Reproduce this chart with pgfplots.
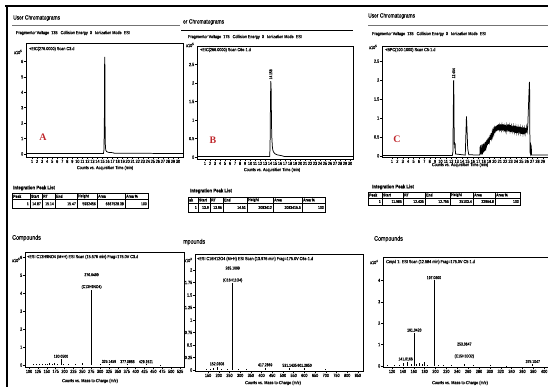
\documentclass[border=0pt]{standalone}
\usepackage{fontspec}
\setmainfont{Liberation Sans}[FakeStretch=0.82,FakeBold=0.4]
\newfontfamily\serifb{Liberation Serif}
\usepackage{pgfplots}
\pgfplotsset{compat=1.18}
\definecolor{lblred}{HTML}{C0282D}
\pgfplotsset{
  base/.style={scale only axis, anchor=north west, axis lines=box,
    xtick pos=bottom, ytick pos=left, tick align=outside,
    major tick length=1.8pt, minor tick length=1pt,
    axis line style={line width=0.5pt, black},
    every tick/.style={black, line width=0.4pt},
    ticklabel style={font=\fontsize{4.6}{4.8}\selectfont, inner sep=0.8pt},
    /pgf/number format/assume math mode=true,
    scaled y ticks=false, scaled x ticks=false, clip=true},
  trace/.style={black, line width=0.75pt, mark=none},
  comb/.style={ycomb, black, line width=0.7pt, mark=none},
}
\newcommand\tf{\fontsize{4.6}{5.2}\selectfont}
\newcommand\pf{\fontsize{4.2}{5}\selectfont}
\newcommand\hf{\fontsize{6}{6.5}\selectfont}
\begin{document}
\begin{tikzpicture}
\path[use as bounding box] (0bp,0bp) rectangle (548bp,387bp);
\begin{scope}[x=1bp,y=1bp]
\draw[black,line width=2.2pt] (5,381) -- (548,381);
\draw[black,line width=2.4pt] (6.8,381) -- (6.8,0);
% ===== headers =====
\node[anchor=west,inner sep=0] at (13,{387-18}) {\hf User Chromatograms};
\draw[black!55,line width=0.6pt] (12,{387-25}) -- (180,{387-25});
\node[anchor=west,inner sep=0] at (16,{387-33}) {\tf Fragmentor Voltage \ 135 \ \ Collision Energy \ 0 \ \ Ionization Mode \ ESI};
\node[anchor=west,inner sep=0] at (183,{387-22}) {\hf er Chromatograms};
\draw[black,line width=0.8pt] (181,{387-30}) -- (353,{387-30});
\node[anchor=west,inner sep=0] at (188,{387-37}) {\tf Fragmentor Voltage \ 175 \ \ Collision Energy \ 0 \ \ Ionization Mode \ ESI};
\node[anchor=west,inner sep=0] at (368,{387-16}) {\hf User Chromatograms};
\draw[black!55,line width=0.6pt] (368,{387-25}) -- (548,{387-25});
\node[anchor=west,inner sep=0] at (372,{387-34}) {\tf Fragmentor Voltage \ 135 \ \ Collision Energy \ 0 \ \ Ionization Mode \ ESI};

\node[anchor=west,inner sep=0] at (14,{387-52}) {\tf x10\textsuperscript{5}};
\node[anchor=west,inner sep=0] at (29,{387-49}) {\tf +EIC(276.0000) Scan C3.d};
\node[anchor=center,inner sep=0,text=lblred] at (43,{387-137}) {\serifb\bfseries\fontsize{10}{10}\selectfont A};
\node[inner sep=0] at (105,{387-168}) {\tf Counts vs. Acquisition Time (min)};
\node[anchor=west,inner sep=0] at (186,{387-45}) {\tf x10\textsuperscript{5}};
\node[anchor=west,inner sep=0] at (200,{387-50}) {\tf +EIC(266.0000) Scan C6e-1.d};
\node[inner sep=0,text=lblred] at (213,{387-140}) {\serifb\bfseries\fontsize{10}{10}\selectfont B};
\node[inner sep=0] at (272,{387-170}) {\tf Counts vs. Acquisition Time (min)};
\node[anchor=west,inner sep=0] at (369,{387-47}) {\tf x10\textsuperscript{5}};
\node[anchor=west,inner sep=0] at (385,{387-50}) {\tf +BPC(100-1000) Scan C5-1.d};
\node[inner sep=0,text=lblred] at (397,{387-139}) {\serifb\bfseries\fontsize{10}{10}\selectfont C};
\node[inner sep=0] at (460,{387-165}) {\tf Counts vs. Acquisition Time (min)};

% ===== Tables =====
\node[anchor=west,inner sep=0] at (13,{387-188}) {\fontsize{5.2}{5.5}\selectfont\bfseries Integration Peak List};
\draw[line width=0.45pt] (12,{387-193}) rectangle (148,{387-208});
\draw[line width=1pt] (12,{387-193}) -- (148,{387-193});
\draw[line width=0.6pt] (12,{387-199.5}) -- (148,{387-199.5});
\foreach \c in {30,42,55,77,97,125} \draw[line width=0.45pt] (\c,{387-193}) -- (\c,{387-208});
\foreach \c/\t in {12/Peak,30/Start,42/RT,55/End,77/Height,97/Area,125/Area \%}
  \node[anchor=west,inner sep=0] at ({\c+1},{387-196.3}) {\pf\bfseries \t};
\foreach \c/\t in {30/1,42/14.87,55/15.14,77/15.47,97/5932456,125/6667528.38,148/100}
  \node[anchor=east,inner sep=0] at ({\c-1},{387-203.8}) {\pf \t};

\node[anchor=west,inner sep=0] at (190,{387-191}) {\fontsize{5.2}{5.5}\selectfont\bfseries Integration Peak List};
\draw[line width=0.45pt] (188,{387-197}) rectangle (325,{387-212});
\draw[line width=1pt] (188,{387-197}) -- (325,{387-197});
\draw[line width=0.6pt] (188,{387-203}) -- (325,{387-203});
\foreach \c in {198,210,223,247,273,302} \draw[line width=0.45pt] (\c,{387-197}) -- (\c,{387-212});
\foreach \c/\t in {188/ak,198/Start,210/RT,223/End,247/Height,273/Area,302/Area \%}
  \node[anchor=west,inner sep=0] at ({\c+1},{387-200}) {\pf\bfseries \t};
\foreach \c/\t in {198/1,210/13.9,223/13.96,247/14.51,273/2083412,302/3083415.5,325/100}
  \node[anchor=east,inner sep=0] at ({\c-1},{387-207.5}) {\pf \t};

\node[anchor=west,inner sep=0] at (372,{387-187}) {\fontsize{5.2}{5.5}\selectfont\bfseries Integration Peak List};
\draw[line width=0.45pt] (368,{387-192}) rectangle (520,{387-205});
\draw[line width=1pt] (368,{387-192}) -- (520,{387-192});
\draw[line width=0.6pt] (368,{387-198}) -- (520,{387-198});
\foreach \c in {382,403,425,450,473,495} \draw[line width=0.45pt] (\c,{387-192}) -- (\c,{387-205});
\foreach \c/\t in {368/Peak,382/Start,403/RT,425/End,450/Height,473/Area,495/Area \%}
  \node[anchor=west,inner sep=0] at ({\c+1},{387-195}) {\pf\bfseries \t};
\foreach \c/\t in {382/1,403/11.985,425/12.435,450/12.755,473/25103.4,495/22964.8,520/100}
  \node[anchor=east,inner sep=0] at ({\c-1},{387-201.5}) {\pf \t};

% ===== Compounds =====
\node[anchor=west,inner sep=0] at (12,{387-238}) {\fontsize{6.5}{7}\selectfont Compounds};
\node[anchor=west,inner sep=0] at (183,{387-242}) {\fontsize{6.5}{7}\selectfont mpounds};
\node[anchor=west,inner sep=0] at (374,{387-239}) {\fontsize{6.5}{7}\selectfont Compounds};

\node[anchor=west,inner sep=0] at (12,{387-260}) {\tf x10\textsuperscript{5}};
\node[anchor=west,inner sep=0] at (27,{387-257}) {\tf +ESI C13H9NO4 (M+H) ESI Scan (15.576 min) Frag=175.0V C3.d};
\node[inner sep=0] at (90,{387-381}) {\tf Counts vs. Mass-to-Charge (m/z)};
\node[anchor=west,inner sep=0] at (184,{387-260}) {\tf x10\textsuperscript{3}};
\node[anchor=west,inner sep=0] at (197,{387-259}) {\tf +ESI C16H12O4 (M+H) ESI Scan (13.976 min) Frag=175.0V C6e-1.d};
\node[inner sep=0] at (273,{387-383}) {\tf Counts vs. Mass-to-Charge (m/z)};
\node[anchor=west,inner sep=0] at (370,{387-262}) {\tf x10\textsuperscript{4}};
\node[anchor=west,inner sep=0] at (386,{387-262}) {\tf Cmpd 1: ESI Scan (12.584 min) Frag=175.0V C5-1.d};
\node[inner sep=0] at (460,{387-383}) {\tf Counts vs. Mass-to-Charge (m/z)};
\end{scope}

% ===== Chromatogram A =====
\begin{axis}[base, at={(26bp,344bp)}, width=157bp, height=114bp,
  xmin=-0.2, xmax=31, ymin=-0.2, ymax=7.2, xtick={1,...,30}, ytick={0,...,6}]
\addplot[trace] coordinates {(-0.2,0.03)(15.2,0.03)(15.3,0.3)(15.38,2.5)(15.43,6.3)(15.47,6.1)(15.5,4.0)(15.53,1.2)(15.58,0.5)(15.65,0.25)(15.8,0.15)(16.2,0.1)(17.0,0.08)(17.4,0.04)(31,0.03)};
\end{axis}

% ===== Chromatogram B =====
\begin{axis}[base, at={(197bp,341bp)}, width=156bp, height=113bp,
  xmin=-0.6, xmax=30.6, ymin=-0.05, ymax=3.0, xtick={1,...,30}, ytick={0,0.5,...,2.5}]
\addplot[trace] coordinates {(-0.6,0.02)(13.95,0.02)(14.02,0.4)(14.1,1.6)(14.16,2.05)(14.22,1.9)(14.28,1.2)(14.34,0.6)(14.4,0.45)(14.46,0.3)(14.55,0.2)(14.7,0.14)(15.0,0.09)(15.5,0.06)(16.3,0.04)(16.8,0.02)(30.6,0.02)};
\node[rotate=90,anchor=west,inner sep=0.5pt] at (axis cs:14.16,2.08) {\fontsize{4}{4}\selectfont 14.158};
\end{axis}

% ===== Chromatogram C =====
\begin{axis}[base, at={(382bp,341bp)}, width=166bp, height=111bp,
  xmin=-0.85, xmax=29.95, ymin=-0.03, ymax=2.9, xtick={1,...,29}, ytick={0,0.5,...,2.5}]
\addplot[trace] coordinates {(-0.85,0.01)(12.2,0.01)(12.3,0.1)(12.38,1.2)(12.44,2.0)(12.5,1.5)(12.55,0.3)(12.6,0.36)(12.66,0.2)(12.72,0.33)(12.78,0.05)(14.6,0.02)(14.72,0.6)(14.82,1.04)(14.92,0.7)(15.05,0.2)(15.25,0.03)(17.2,0.02)
(17.30,0.02)(17.36,0.25)(17.42,0.05)(17.48,0.28)(17.54,0.03)(17.60,0.22)(17.66,0.06)(17.72,0.30)(17.78,0.04)(17.84,0.26)(17.90,0.08)(17.96,0.32)(18.02,0.10)(18.08,0.30)(18.14,0.12)(18.20,0.34)(18.26,0.15)(18.32,0.36)(18.38,0.14)(18.44,0.38)(18.50,0.20)(18.60,0.42)(18.70,0.28)(18.80,0.46)(18.90,0.32)(19.00,0.50)(19.10,0.38)(19.20,0.55)(19.30,0.42)(19.40,0.60)(19.50,0.48)(19.60,0.64)(19.70,0.52)(19.80,0.68)(19.90,0.58)(20.00,0.72)(20.10,0.60)(20.20,0.78)(20.30,0.64)(20.40,0.80)(20.50,0.66)(20.60,0.82)(20.70,0.68)(20.80,0.84)(20.90,0.70)(21.00,0.80)(21.10,0.66)(21.20,0.83)(21.30,0.69)(21.40,0.81)(21.50,0.67)(21.60,0.84)(21.70,0.70)(21.80,0.79)(21.90,0.65)(22.00,0.82)(22.10,0.68)(22.20,0.80)(22.30,0.66)(22.40,0.78)(22.50,0.70)(22.60,0.83)(22.70,0.64)(22.80,0.79)(22.90,0.67)(23.00,0.81)(23.10,0.63)(23.20,0.78)(23.30,0.66)(23.40,0.80)(23.50,0.62)(23.60,0.77)(23.70,0.64)(23.80,0.79)(23.90,0.61)(24.00,0.76)(24.10,0.63)(24.20,0.78)(24.30,0.60)(24.40,0.75)(24.50,0.62)(24.60,0.77)(24.70,0.59)(24.80,0.74)(24.90,0.61)(25.00,0.76)(25.10,0.58)(25.20,0.73)(25.30,0.60)(25.40,0.75)(25.50,0.57)(25.60,0.72)(25.70,0.59)(25.80,0.74)(25.90,0.60)(26.00,0.76)(26.10,0.65)(26.20,0.80)(26.30,1.2)(26.40,1.6)(26.50,1.95)(26.55,1.7)(26.60,0.1)(26.70,0.05)(26.75,0.3)(26.85,0.25)(26.90,0.02)(29.95,0.02)};
\node[rotate=90,anchor=west,inner sep=0.5pt] at (axis cs:12.44,2.03) {\fontsize{4}{4}\selectfont 12.454};
\end{axis}

% ===== Spectrum A =====
\begin{axis}[base, at={(25bp,135bp)}, width=159bp, height=115bp,
  xmin=88.8, xmax=536, ymin=-0.11, ymax=6.3, xtick={100,125,...,525}, minor x tick num=4, ytick={0,...,6}]
\addplot[comb] coordinates {(112,0.04)(120,0.03)(128,0.05)(138,0.08)(145,0.05)(152,0.07)(158,0.11)(165,0.07)(172,0.12)(180,0.05)(190,0.34)(196,0.08)(210,0.04)(230,0.05)(249,0.13)(276,4.2)(300,0.03)(325,0.05)(377,0.04)(429,0.04)(470,0.02)};
\node[anchor=south,inner sep=0.5pt,align=center] at (axis cs:276,4.2) {\pf 276.0499\\\pf (C13H9NO4)};
\node[anchor=south,inner sep=1pt] at (axis cs:190,0.34) {\pf 190.0500};
\node[anchor=south,inner sep=1pt] at (axis cs:325,0.05) {\pf 325.1459};
\node[anchor=south,inner sep=1pt] at (axis cs:377,0.04) {\pf 377.0855};
\node[anchor=south,inner sep=1pt] at (axis cs:429,0.04) {\pf 429.1511};
\end{axis}

% ===== Spectrum B =====
\begin{axis}[base, at={(195bp,133bp)}, width=168bp, height=117bp,
  xmin=89, xmax=874, ymin=-0.02, ymax=2.32, xtick={150,200,...,850}, minor x tick num=4, ytick={0,0.25,...,2}]
\addplot[comb] coordinates {(140,0.02)(160,0.03)(175,0.04)(192,0.07)(210,0.03)(240,0.03)(265.1,1.74)(290,0.02)(330,0.02)(417,0.05)(531,0.04)(601,0.04)(700,0.02)};
\node[anchor=south,inner sep=0.5pt,align=center] at (axis cs:265.1,1.74) {\pf 265.1099\\\pf (C16H11O4)};
\node[anchor=south,inner sep=1pt] at (axis cs:192,0.07) {\pf 152.0308};
\node[anchor=south,inner sep=1pt] at (axis cs:417,0.05) {\pf 417.2869};
\node[anchor=south,inner sep=1pt] at (axis cs:531,0.04) {\pf 531.1435};
\node[anchor=south,inner sep=1pt] at (axis cs:601,0.04) {\pf 601.2850};
\end{axis}

% ===== Spectrum C =====
\begin{axis}[base, at={(383bp,130bp)}, width=165bp, height=110bp,
  xmin=103.4, xmax=407, ymin=-0.05, ymax=5.09, xtick={120,140,...,400}, minor x tick num=3, ytick={0,...,4}]
\addplot[comb] coordinates {(112,0.04)(125,0.05)(133,0.06)(141,0.15)(149,0.2)(155,0.08)(161,1.55)(165,0.1)(170,0.15)(175,0.1)(180,0.18)(185,0.06)(197.1,4.0)(205,0.05)(215,0.03)(230,0.04)(253,0.1)(270,0.03)(300,0.03)(330,0.02)(379,0.08)};
\node[anchor=south,inner sep=1pt] at (axis cs:197.1,4.0) {\pf 197.0600};
\node[anchor=south,inner sep=1pt] at (axis cs:161,1.55) {\pf 161.0420};
\node[anchor=south,inner sep=1pt] at (axis cs:145,0.2) {\pf 141.0166};
\node[anchor=south,inner sep=1pt,align=center] at (axis cs:253,0.3) {\pf 253.0647\\\pf (C15H10O2)};
\node[anchor=south,inner sep=1pt] at (axis cs:379,0.08) {\pf 375.1047};
\end{axis}
\end{tikzpicture}
\end{document}
